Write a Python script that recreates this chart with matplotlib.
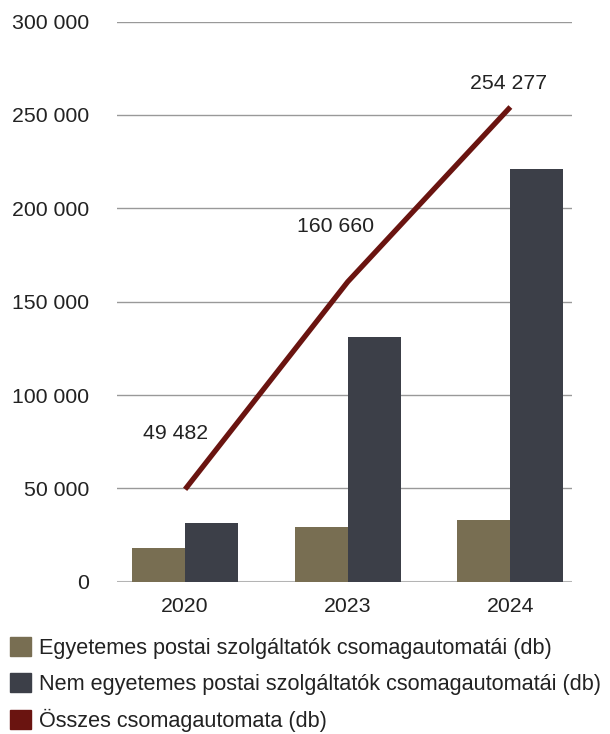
import numpy as np
import matplotlib.pyplot as plt
from matplotlib.patches import Patch

plt.rcParams['font.family'] = ['Liberation Sans', 'DejaVu Sans']

years = ['2020', '2023', '2024']
egyetemes = [17900, 29400, 33000]
nem_egyetemes = [31600, 131260, 221300]
osszes = [49482, 160660, 254277]

labels = ['Egyetemes postai szolgáltatók csomagautomatái (db)',
          'Nem egyetemes postai szolgáltatók csomagautomatái (db)',
          'Összes csomagautomata (db)']
c_egy = '#786e52'
c_nem = '#3c3f48'
c_ossz = '#6a1410'
txt = '#222222'
fs = 15.3

# where each total label sits relative to its point (points)
lab_off = [(-7, 40), (-9, 40), (-1, 17)]

def fmt(v):
    return f"{v:,.0f}".replace(",", " ")

fig = plt.figure(figsize=(6.1, 7.34), dpi=100)
ax = fig.add_axes([0.192, 0.2075, 0.746, 0.763])

x = np.arange(len(years))
w = 0.326
ax.bar(x - w/2, egyetemes, w, color=c_egy, zorder=2)
ax.bar(x + w/2, nem_egyetemes, w, color=c_nem, zorder=2)
ax.plot(x, osszes, color=c_ossz, lw=3.8, zorder=3, solid_capstyle='butt')

for xi, v, off in zip(x, osszes, lab_off):
    ax.annotate(fmt(v), (xi, v), xytext=off, textcoords='offset points',
                ha='center', va='center', fontsize=fs, color=txt)

ax.set_ylim(0, 300000)
ax.set_xlim(-0.418, 2.38)
ticks = np.arange(0, 300001, 50000)
ax.set_yticks(ticks)
ax.set_yticklabels([fmt(t) for t in ticks])
ax.set_xticks(x)
ax.set_xticklabels(years)
ax.tick_params(axis='both', length=0, labelsize=fs, colors=txt)
ax.tick_params(axis='y', pad=20)
ax.tick_params(axis='x', pad=11)
for s in ax.spines.values():
    s.set_visible(False)
ax.grid(axis='y', color='#999999', lw=1, zorder=0)
ax.axhline(0, color='#bbbbbb', lw=1.5, zorder=1)

handles = [Patch(color=c_egy), Patch(color=c_nem), Patch(color=c_ossz)]
fig.legend(handles, labels, loc='upper left', bbox_to_anchor=(10/610, 1 - 637/734),
           frameon=False, fontsize=15.6, handlelength=0.95, handleheight=1.0,
           handletextpad=0.4, labelspacing=0.64, labelcolor=txt,
           borderaxespad=0, borderpad=0)

fig.savefig('out.png', dpi=100)
